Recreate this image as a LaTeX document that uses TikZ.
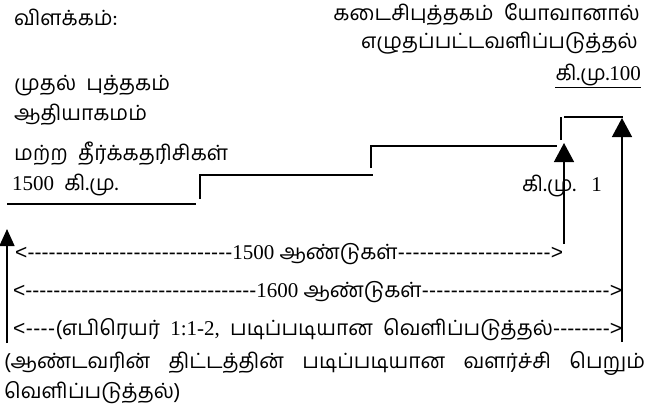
\documentclass[tikz,border=0pt]{standalone}
\usepackage{fontspec}
\setmainfont{Hind Madurai}[Script=Tamil]
\newfontfamily\tm{Liberation Serif}
\newfontfamily\ls{Liberation Sans}
\usetikzlibrary{arrows.meta,calc}
\newcommand\dfill[1]{{\ls\xleaders\hbox{-}\hskip 0pt plus #1fil\relax}}
\begin{document}
\begin{tikzpicture}[x=1pt,y=-1pt,
  txt/.style={inner sep=0pt, font=\fontsize{21}{25}\selectfont},
  ln/.style={line width=1.4pt},
  uparrow/.style={line width=1.4pt,-{Triangle[width=20pt,length=19pt]}},
  uparrowsmall/.style={line width=1.4pt,-{Triangle[width=15pt,length=17pt]}}]
\useasboundingbox (0,0) rectangle (647,408);
% texts
\node[txt,anchor=base west] (t1) at (14,25) {விளக்கம்:};
\node[txt,anchor=base east] (t2) at (640,20) {கடைசிபுத்தகம்\ \ யோவானால்};
\node[txt,anchor=base east] (t3) at (638,48) {எழுதப்பட்டவளிப்படுத்தல்};
\node[txt,anchor=base east] (t4) at (641,80) {கி.மு.{\tm 100}};
\draw[line width=0.9pt] ($(t4.base west)+(0,7)$) -- ($(t4.base east)+(0,7)$);
\node[txt,anchor=base west] (t5) at (14,90) {முதல்\ \ புத்தகம்};
\node[txt,anchor=base west] (t6) at (14,120) {ஆதியாகமம்};
\node[txt,anchor=base west] (t7) at (14,160) {மற்ற\ \ தீர்க்கதரிசிகள்};
\node[txt,anchor=base west] (t8) at (12,190) {{\tm 1500}\ \ கி.மு.};
\node[txt,anchor=base west] (t9) at (522,191) {கி.மு.\ \ \ {\tm 1}};
% steps
\coordinate (h1a) at (7,204);   \coordinate (h1b) at (196,204);
\coordinate (v1a) at (200,199); \coordinate (v1b) at (200,175);
\coordinate (h2b) at (373,175);
\coordinate (v2a) at (371,168); \coordinate (v2b) at (371,146);
\coordinate (h3b) at (557,146);
\coordinate (v3a) at (561,140); \coordinate (v3b) at (561,117);
\coordinate (h4a) at (564,117); \coordinate (h4b) at (623,117);
\draw[ln] (h1a) -- (h1b);
\draw[ln] (v1a) -- (v1b) -- (h2b);
\draw[ln] (v2a) -- (v2b) -- (h3b);
\draw[ln] (v3a) -- (v3b);
\draw[ln] (h4a) -- (h4b);
% arrows
\coordinate (a0b) at (7,343);   \coordinate (a0t) at (7,229);
\coordinate (a1b) at (564,244); \coordinate (a1t) at (564,143);
\coordinate (a2b) at (622,342); \coordinate (a2t) at (622,118);
\draw[uparrowsmall] (a0b) -- (a0t);
\draw[uparrow] (a1b) -- (a1t);
\draw[uparrow] (a2b) -- (a2t);
% rows
\node[txt,anchor=base west] (r1) at (15,259) {\hbox to 548pt{{\ls<}\dfill{206}{\tm 1500}\ ஆண்டுகள்\dfill{154}{\ls>}}};
\node[txt,anchor=base west] (r2) at (13,297) {\hbox to 609pt{{\ls<}\dfill{233}{\tm 1600}\ ஆண்டுகள்\dfill{190}{\ls>}}};
\node[txt,anchor=base west] (r3) at (13,335) {\hbox to 609pt{{\ls<}\dfill{28}(எபிரெயர்\ \ {\tm 1:1-2,}\ \ படிப்படியான\ \ வெளிப்படுத்தல்\dfill{53}{\ls>}}};
\node[txt,anchor=base west] (p1) at (4,368) {\hbox to 641pt{(ஆண்டவரின்\hfill திட்டத்தின்\hfill படிப்படியான\hfill வளர்ச்சி\hfill பெறும்}};
\node[txt,anchor=base west] (p2) at (4,398) {வெளிப்படுத்தல்)};
\end{tikzpicture}
\end{document}
